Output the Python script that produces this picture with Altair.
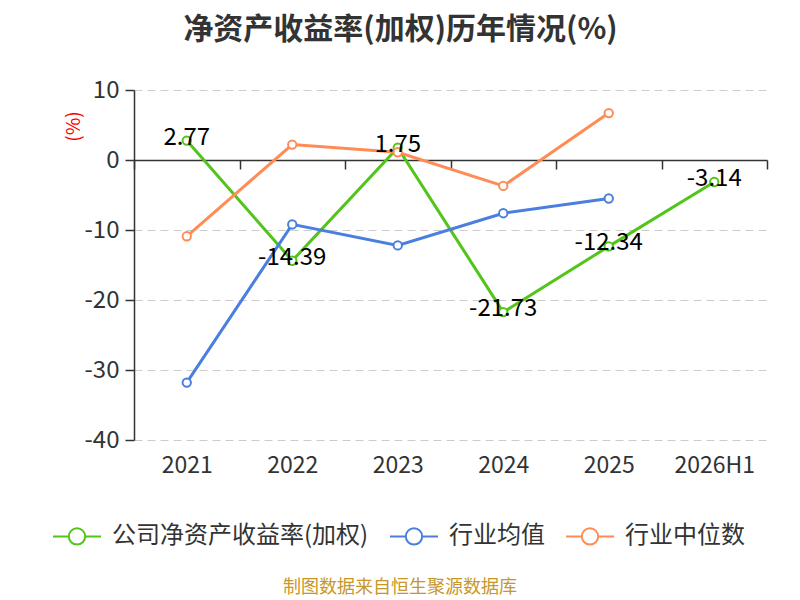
import altair as alt
import pandas as pd

years = ["2021", "2022", "2023", "2024", "2025", "2026H1"]
company = [2.77, -14.39, 1.75, -21.73, -12.34, -3.14]
ind_mean = [-31.8, -9.2, -12.2, -7.6, -5.5, None]
ind_median = [-10.9, 2.2, 1.1, -3.7, 6.7, None]

s_company = "公司净资产收益率(加权)"
s_mean = "行业均值"
s_median = "行业中位数"
series_names = [s_company, s_mean, s_median]
colors = ["#52c41a", "#4a7fe0", "#ff8c55"]

rows = []
for name, vals in zip(series_names, [company, ind_mean, ind_median]):
    for y, v in zip(years, vals):
        if v is not None:
            rows.append({"year": y, "series": name, "value": v,
                         "label": f"{v:.2f}"})
df = pd.DataFrame(rows)

FONT = "Noto Sans CJK SC"
W, H = 633, 350

legend_path = ("M-1,0 L-0.34,0 M0.34,0 L1,0 "
               "M-0.34,0 A0.34,0.34 0 1,0 0.34,0 A0.34,0.34 0 1,0 -0.34,0 Z")

x_enc = alt.X("year:N", sort=years, title=None,
              scale=alt.Scale(domain=years, paddingInner=0, paddingOuter=0),
              axis=alt.Axis(orient="bottom", offset=-280, labelAngle=0,
                            labelFontSize=23, labelColor="#333333",
                            labelFont=FONT, labelPadding=285,
                            domainColor="#333333", domainWidth=1.5,
                            tickColor="#333333", tickWidth=1.5, tickSize=9,
                            tickBand="extent", grid=False))
y_enc = alt.Y("value:Q", title="(%)",
              scale=alt.Scale(domain=[-40, 10], nice=False, zero=False),
              axis=alt.Axis(values=[-40, -30, -20, -10, 0, 10],
                            labelExpr="datum.value + ''",
                            labelFontSize=24, labelColor="#333333",
                            labelFont=FONT, labelPadding=6,
                            domainColor="#333333", domainWidth=1.5,
                            tickColor="#333333", tickWidth=1.5, tickSize=9,
                            grid=True, gridColor="#cccccc", gridDash=[8, 5],
                            gridWidth=1,
                            titleColor="red", titleFontSize=19,
                            titleFont=FONT, titleFontWeight="normal",
                            titleAngle=270, titleX=-61, titleY=36,
                            titleAlign="center", titleBaseline="middle"))

color_enc = alt.Color("series:N",
                      scale=alt.Scale(domain=series_names, range=colors),
                      legend=alt.Legend(title=None, orient="none",
                                        direction="horizontal",
                                        legendX=-82, legendY=421,
                                        symbolType=legend_path,
                                        symbolSize=2304, symbolStrokeWidth=2,
                                        symbolFillColor="white",
                                        labelFontSize=24, labelFont=FONT,
                                        labelColor="#333333", labelOffset=10,
                                        columnPadding=17, labelLimit=400))

base = alt.Chart(df)

lines = base.mark_line(strokeWidth=3).encode(
    x=x_enc, y=y_enc, color=color_enc)

points = base.mark_point(shape="circle", filled=True, fill="white",
                         size=70, strokeWidth=2, opacity=1).encode(
    x=alt.X("year:N", sort=years), y="value:Q",
    stroke=alt.Color("series:N",
                     scale=alt.Scale(domain=series_names, range=colors),
                     legend=None))

labels = base.transform_filter(alt.datum.series == s_company).mark_text(
    fontSize=24, font=FONT, color="black", dy=-3, baseline="middle"
).encode(x=alt.X("year:N", sort=years), y="value:Q", text="label:N")

source = alt.Chart(pd.DataFrame({"t": ["制图数据来自恒生聚源数据库"]})).mark_text(
    fontSize=18, font=FONT, color="#c8962a"
).encode(x=alt.value(266), y=alt.value(498), text="t:N")

chart = alt.layer(lines, points, labels, source).properties(
    width=W, height=H,
    autosize=alt.AutoSizeParams(type="none"),
    padding={"left": 126, "top": 82, "right": 25, "bottom": 160},
    title=alt.TitleParams("净资产收益率(加权)历年情况(%)", fontSize=30,
                          font=FONT, fontWeight="bold", color="#333333",
                          anchor="middle", dx=-50, offset=33)
).configure(background="white").configure_view(stroke=None)

chart.save("out.html", embed_options={"renderer": "svg", "actions": False})
